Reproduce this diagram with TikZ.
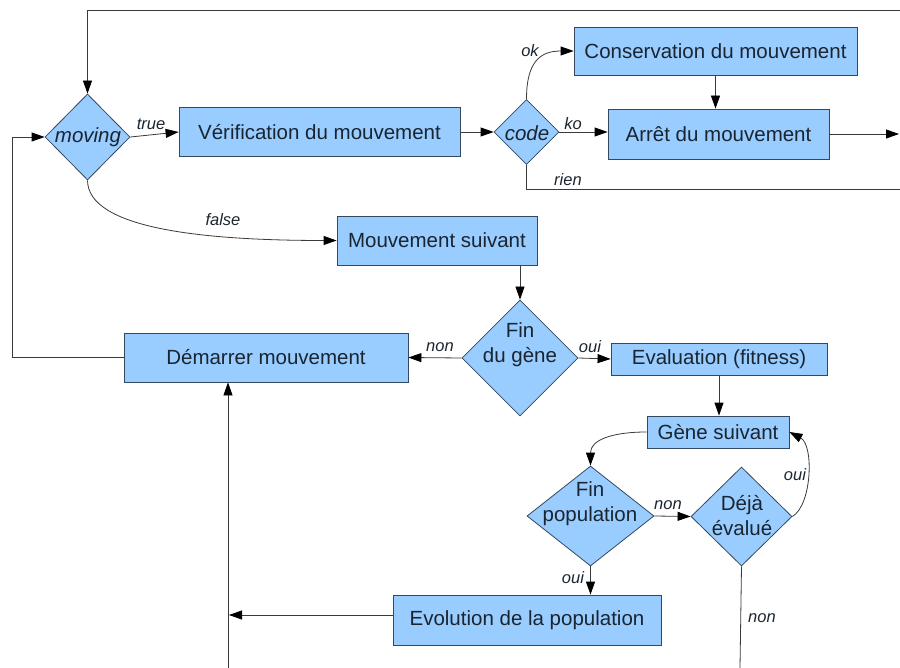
\documentclass[tikz,border=0pt]{standalone}
\usepackage{fontspec}
\setmainfont{Liberation Sans}
\usetikzlibrary{shapes.geometric,arrows.meta}
\definecolor{boxfill}{HTML}{99CCFF}
\definecolor{boxline}{HTML}{34495E}
\definecolor{txt}{HTML}{1A2530}
\definecolor{wire}{HTML}{3A3A3A}
\begin{document}
\begin{tikzpicture}[x=1pt,y=-1pt,
 box/.style={draw=boxline, fill=boxfill, line width=0.8pt, inner sep=0pt, font=\fontsize{20.5}{24}\selectfont, text=txt},
 dec/.style={draw=boxline, fill=boxfill, line width=0.8pt, shape=diamond, inner sep=0pt},
 declab/.style={font=\fontsize{20.5}{25}\selectfont, text=txt, align=center, inner sep=0pt},
 wirestyle/.style={draw=wire, line width=0.8pt},
 arr/.style={wirestyle, -{Triangle[length=13pt,width=9pt,fill=black,color=black]}},
 lab/.style={font=\fontsize{16.5}{18}\selectfont\itshape, text=txt, inner sep=0pt}
]
\fill[white] (0,0) rectangle (900,668);
\useasboundingbox (0,0) rectangle (900,668);

% boxes
\node[box, minimum width=281pt, minimum height=49pt] (verif) at (319.5,132) {Vérification du mouvement};
\node[box, minimum width=283pt, minimum height=48pt] (conserv) at (715.5,51) {Conservation du mouvement};
\node[box, minimum width=221pt, minimum height=50pt] (arret) at (718.5,134) {Arrêt du mouvement};
\node[box, minimum width=200pt, minimum height=49pt] (mvtsuiv) at (437,240.5) {Mouvement suivant};
\node[box, minimum width=284pt, minimum height=49pt] (demarrer) at (266,357.5) {Démarrer mouvement};
\node[box, minimum width=216pt, minimum height=32pt] (evaluation) at (719,359) {Evaluation (fitness)};
\node[box, minimum width=142pt, minimum height=32pt] (genesuiv) at (718,432) {Gène suivant};
\node[box, minimum width=268pt, minimum height=50pt] (evolution) at (527,620) {Evolution de la population};

% decisions
\node[dec, minimum width=85pt, minimum height=86pt] (moving) at (87.5,137) {};
\node[declab, font=\fontsize{20.5}{25}\selectfont\itshape] (movingT) at (88,137) {moving};
\node[dec, minimum width=65pt, minimum height=65pt] (code) at (526.5,132) {};
\node[declab, font=\fontsize{20.5}{25}\selectfont\itshape] (codeT) at (527,133) {code};
\node[dec, minimum width=116pt, minimum height=116pt] (fingene) at (520,358) {};
\node[declab] (fingeneT) at (520,345) {Fin\\du gène};
\node[dec, minimum width=127pt, minimum height=100pt] (finpop) at (590.5,516) {};
\node[declab] (finpopT) at (590,504) {Fin\\population};
\node[dec, minimum width=101pt, minimum height=99pt] (deja) at (741.5,516.5) {};
\node[declab] (dejaT) at (742,516) {Déjà\\évalué};

% free ends
\coordinate (topR) at (900,10);
\coordinate (arrR) at (899,134);
\coordinate (rienR) at (900,189);
\coordinate (bottomA) at (228,668);
\coordinate (evoL) at (229,615);
\coordinate (bottomB) at (740,668);

% connectors
\draw[arr] (topR) -| (moving.north);
\draw[arr] (demarrer.west) -- (12,357.5) |- (moving.west);
\draw[arr] (moving.east) -- (verif.west);
\draw[arr] (moving.south) .. controls (88,228) and (200,240.5) .. (mvtsuiv.west);
\draw[arr] (verif.east) -- (code.west);
\draw[arr] (code.north) .. controls (526.5,62) and (540,51) .. (conserv.west);
\draw[arr] (code.east) -- (code.east -| arret.west);
\draw[arr] (conserv.south) -- (conserv.south |- arret.north);
\draw[arr] (arret.east) -- (arrR);
\draw[wirestyle] (code.south) |- (rienR);
\draw[arr] (fingene.north |- mvtsuiv.south) -- (fingene.north);
\draw[arr] (fingene.west) -- (demarrer.east);
\draw[arr] (fingene.east) -- (evaluation.west);
\draw[arr] (evaluation.south) -- (evaluation.south |- genesuiv.north);
\draw[arr] (genesuiv.west) .. controls (612,432) and (590.5,440) .. (finpop.north);
\draw[arr] (finpop.east) -- (deja.west);
\draw[arr] (deja.east) .. controls (812,505) and (814,445) .. (genesuiv.east);
\draw[arr] (finpop.south) -- (finpop.south |- evolution.north);
\draw[arr] (evoL -| evolution.west) -- (evoL);
\draw[arr] (bottomA) -- (bottomA |- demarrer.south);
\draw[wirestyle] (deja.south) -- (bottomB);

% labels
\node[lab] (lTrue) at (151,124) {true};
\node[lab] (lFalse) at (223,220) {false};
\node[lab] (lOk) at (530,51) {ok};
\node[lab] (lKo) at (573,124) {ko};
\node[lab] (lRien) at (568,180) {rien};
\node[lab] (lNon1) at (440,347) {non};
\node[lab] (lOui1) at (590,347) {oui};
\node[lab] (lNon2) at (668,505) {non};
\node[lab] (lOui2) at (795,475) {oui};
\node[lab] (lOui3) at (573,578) {oui};
\node[lab] (lNon3) at (762,618) {non};
\end{tikzpicture}
\end{document}
